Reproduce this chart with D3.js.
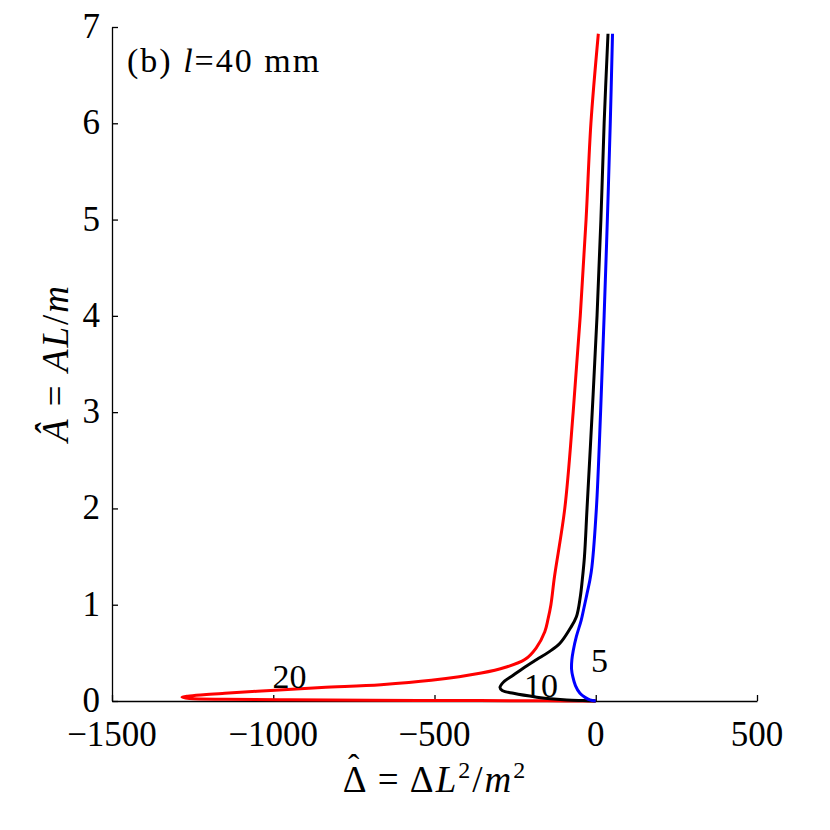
<!DOCTYPE html>
<meta charset="utf-8">
<script src="https://d3js.org/d3.v7.min.js"></script>
<style>
body { margin: 0; background: #fff; }
text { font-family: "Liberation Serif", "DejaVu Serif", serif; fill: #000; }
path.curve { fill: none; stroke-width: 3px; stroke-linejoin: round; }
.axis path, .axis line { stroke: #000; stroke-width: 1.3px; }
</style>
<body>
<script>

// curves: [Delta_hat, A_hat]
var curve20 = [[8,6.93],[-15,6],[-30,5],[-48,4],[-70,3],[-96,2],[-128,1.29],[-139,1],[-148,0.85],[-158,0.72],
  [-185,0.55],[-220,0.43],[-280,0.35],[-355,0.29],[-510,0.215],[-666,0.17],[-850,0.14],[-1008,0.11],
  [-1150,0.08],[-1216,0.065],[-1265,0.05],[-1283,0.038],[-1260,0.026],[-1150,0.017],[-950,0.012],
  [-700,0.008],[-400,0.005],[-150,0.002],[0,0]];
var curve10 = [[38,6.93],[26,6],[16,5],[4,4],[-11,3],[-27,2],[-35,1.5],[-42,1.25],[-48,1.08],[-60,0.875],
  [-80,0.75],[-111,0.6],[-145,0.51],[-183,0.43],[-225,0.34],[-255,0.27],[-285,0.2],[-297,0.14],
  [-290,0.11],[-255,0.08],[-183,0.04],[-130,0.02],[-90,0.01],[-40,0.004],[0,0]];
var curve5 = [[52,6.93],[45,6],[36,5],[26,4],[15,3],[2,2],[-12,1.39],[-18,1.26],[-28,1.1],[-38,0.945],
  [-45,0.84],[-60,0.67],[-70,0.52],[-74,0.43],[-75,0.33],[-71,0.25],[-63,0.16],[-49,0.08],
  [-32,0.035],[-18,0.012],[0,0]];

var series = [
  {name: "20", color: "#ff0000", pts: curve20},
  {name: "10", color: "#000000", pts: curve10},
  {name: "5",  color: "#0000ff", pts: curve5}
];
var labels = [
  {text: "20", x: -950, y: 0.135},
  {text: "10", x: -170, y: 0.04},
  {text: "5",  x: 12, y: 0.3}
];
var xTicks = [-1500, -1000, -500, 0, 500];
var yTicks = [0, 1, 2, 3, 4, 5, 6, 7];

var width = 830, height = 830;
var mLeft = 112, mRight = 757, mTop = 27, mBottom = 701;

var svg = d3.select("body").append("svg")
    .attr("width", width)
    .attr("height", height);

var x = d3.scaleLinear().domain([-1500, 500]).range([mLeft, mRight]);
var y = d3.scaleLinear().domain([0, 7]).range([mBottom, mTop]);

// axes (ticks inside)
svg.append("g")
    .attr("class", "axis")
    .attr("transform", "translate(0," + mBottom + ")")
    .call(d3.axisBottom(x).tickValues(xTicks).tickSize(-6).tickSizeOuter(0).tickFormat(""));

svg.append("g")
    .attr("class", "axis")
    .attr("transform", "translate(" + mLeft + ",0)")
    .call(d3.axisLeft(y).tickValues(yTicks).tickSize(-6).tickSizeOuter(0).tickFormat(""));

// tick labels
svg.selectAll(".xlab")
    .data(xTicks)
    .enter().append("text")
    .attr("x", function(d) { return x(d); })
    .attr("y", mBottom + 45)
    .attr("text-anchor", "middle")
    .style("font-size", "35px")
    .text(function(d) { return d < 0 ? "\u2212" + Math.abs(d) : d; });

svg.selectAll(".ylab")
    .data(yTicks)
    .enter().append("text")
    .attr("x", mLeft - 12)
    .attr("y", function(d) { return y(d) + 11; })
    .attr("text-anchor", "end")
    .style("font-size", "35px")
    .text(function(d) { return d; });

// curves
var line = d3.line()
    .x(function(d) { return x(d[0]); })
    .y(function(d) { return y(d[1]); })
    .curve(d3.curveCatmullRom.alpha(0.5));

svg.append("g")
    .selectAll("path")
    .data(series)
    .enter().append("path")
    .attr("class", "curve")
    .attr("stroke", function(d) { return d.color; })
    .attr("d", function(d) { return line(d.pts); });

// curve labels
svg.selectAll(".clab")
    .data(labels)
    .enter().append("text")
    .attr("x", function(d) { return x(d.x); })
    .attr("y", function(d) { return y(d.y); })
    .attr("text-anchor", "middle")
    .style("font-size", "34px")
    .text(function(d) { return d.text; });

// panel title
var title = svg.append("text")
    .attr("x", 127)
    .attr("y", 72)
    .style("font-size", "34px")
    .style("letter-spacing", "2px");
title.append("tspan").text("(b) ");
title.append("tspan").style("font-style", "italic").text("l");
title.append("tspan").text("=40  mm");

// x label
var xl = svg.append("text")
    .attr("x", 435)
    .attr("y", 792)
    .attr("text-anchor", "middle")
    .style("font-size", "37px")
    .style("letter-spacing", "2px");
xl.append("tspan").text("\u0394 = \u0394");
xl.append("tspan").style("font-style", "italic").text("L");
xl.append("tspan").attr("dy", -14).style("font-size", "24px").text("2");
xl.append("tspan").attr("dy", 14).text("/");
xl.append("tspan").style("font-style", "italic").text("m");
xl.append("tspan").attr("dy", -14).style("font-size", "24px").text("2");

// hat over the first Delta
var p0 = xl.node().getStartPositionOfChar(0),
    p1 = xl.node().getEndPositionOfChar(0);
svg.append("text")
    .attr("x", (p0.x + p1.x) / 2 - 1)
    .attr("y", 792 - 14)
    .attr("text-anchor", "middle")
    .style("font-size", "34px")
    .text("\u02c6");

// y label
var yl = svg.append("text")
    .attr("transform", "translate(68,363) rotate(-90)")
    .attr("text-anchor", "middle")
    .style("font-size", "37px")
    .style("letter-spacing", "2px");
yl.append("tspan").style("font-style", "italic").text("\u00c2");
yl.append("tspan").text(" = ");
yl.append("tspan").style("font-style", "italic").text("AL");
yl.append("tspan").text("/");
yl.append("tspan").style("font-style", "italic").text("m");

</script>
</body>
